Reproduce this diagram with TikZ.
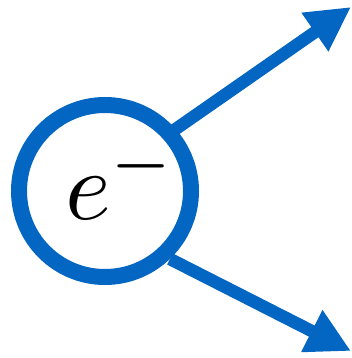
\documentclass[tikz,border=0pt]{standalone}
\usepackage{graphicx}
\usetikzlibrary{arrows.meta}
\definecolor{eblue}{RGB}{3,102,194}
\tikzset{
  ring/.style={circle, draw=eblue, line width=16pt, minimum size=172pt, inner sep=0pt},
  ray/.style={draw=eblue, line width=12.5pt, -{Triangle[length=44pt, width=44pt]}}
}
\begin{document}
\begin{tikzpicture}[x=1pt, y=-1pt]
\useasboundingbox (0,0) rectangle (352,358);
\node[ring] (c) at (105,191) {};
\node[anchor=base west, inner sep=0pt] (lbl) at (65,219) {\scalebox{9.8}{$e^{-}$}};
\coordinate (s1) at (170,133);
\coordinate (t1) at (351,7);
\coordinate (s2) at (170,259);
\coordinate (t2) at (351,351);
\draw[ray] (s1) -- (t1);
\draw[ray] (s2) -- (t2);
\end{tikzpicture}
\end{document}
